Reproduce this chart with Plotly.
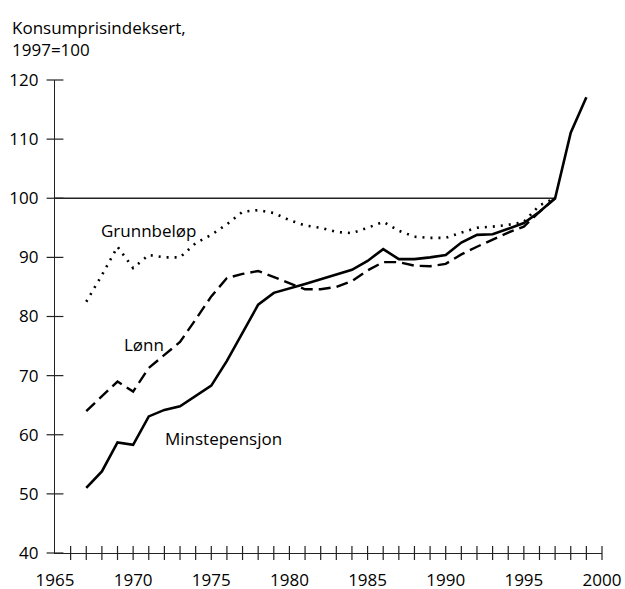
import plotly.graph_objects as go

years = list(range(1967, 2000))
minstepensjon = [51.0, 53.8, 58.7, 58.3, 63.1, 64.2, 64.8, 66.5, 68.3, 72.5, 77.2, 82.0,
                 84.0, 84.7, 85.5, 86.3, 87.1, 87.9, 89.4, 91.4, 89.7, 89.7, 90.0, 90.4,
                 92.5, 93.8, 93.9, 94.8, 95.8, 97.7, 100.0, 111.1, 117.1]
years_short = list(range(1967, 1998))
lonn = [64.0, 66.5, 69.0, 67.3, 71.3, 73.5, 75.7, 79.5, 83.4, 86.5, 87.2, 87.7,
        86.7, 85.7, 84.6, 84.6, 85.0, 86.0, 87.8, 89.2, 89.2, 88.6, 88.5, 88.9,
        90.5, 91.8, 93.0, 94.2, 95.2, 97.7, 100.0]
grunnbelop = [82.5, 87.0, 91.8, 88.2, 90.4, 90.0, 90.0, 92.4, 93.8, 95.6, 97.7, 98.0,
              97.5, 96.3, 95.4, 95.0, 94.3, 94.1, 95.0, 96.0, 94.5, 93.5, 93.3, 93.3,
              94.2, 95.0, 95.2, 95.5, 96.0, 98.8, 100.0]
ref_x = [1965, 1997]
ref_y = [100, 100]
x_ticks = list(range(1965, 2001, 5))
y_ticks = list(range(40, 121, 10))
minor_years = list(range(1966, 2001))

FONT = "Open Sans"
fig = go.Figure()

fig.add_trace(go.Scatter(x=ref_x, y=ref_y, mode="lines",
                         line=dict(color="#222", width=1.5), hoverinfo="skip"))
fig.add_trace(go.Scatter(x=years_short, y=grunnbelop, mode="lines",
                         line=dict(color="black", width=2.6, dash="2px,6px")))
fig.add_trace(go.Scatter(x=years_short, y=lonn, mode="lines",
                         line=dict(color="black", width=2.4, dash="12px,6px")))
fig.add_trace(go.Scatter(x=years, y=minstepensjon, mode="lines",
                         line=dict(color="black", width=2.6)))

# crossing tick marks
fig.add_trace(go.Scatter(x=minor_years, y=[40] * len(minor_years), mode="markers",
                         marker=dict(symbol="line-ns", size=10, line=dict(color="#222", width=1.2)),
                         cliponaxis=False, hoverinfo="skip"))
fig.add_trace(go.Scatter(x=[1965] * len(y_ticks), y=y_ticks, mode="markers",
                         marker=dict(symbol="line-ew", size=12, line=dict(color="#222", width=1.2)),
                         cliponaxis=False, hoverinfo="skip"))

fig.update_layout(
    width=625, height=589,
    margin=dict(l=54.5, r=23, t=80, b=35.7),
    paper_bgcolor="white", plot_bgcolor="white",
    showlegend=False,
    font=dict(family=FONT, size=17, color="black"),
    xaxis=dict(range=[1965, 2000], tickvals=x_ticks, showgrid=False, zeroline=False,
               showline=True, linecolor="#222", linewidth=1.2, ticks="",
               ticklabelstandoff=11, tickfont=dict(size=17), automargin=False),
    yaxis=dict(range=[40, 120], tickvals=y_ticks, showgrid=False, zeroline=False,
               showline=True, linecolor="#222", linewidth=1.2, ticks="",
               ticklabelstandoff=12, tickfont=dict(size=17), automargin=False),
    annotations=[
        dict(text="Konsumprisindeksert,<br>1997=100", xref="paper", yref="paper",
             x=-0.082, y=1.14, xanchor="left", yanchor="top", align="left",
             showarrow=False, font=dict(size=17)),
        dict(text="Grunnbeløp", x=1970.98, y=94.5, showarrow=False, font=dict(size=17)),
        dict(text="Lønn", x=1970.7, y=75.2, showarrow=False, font=dict(size=17)),
        dict(text="Minstepensjon", x=1975.8, y=59.4, showarrow=False, font=dict(size=17)),
    ],
)

fig.write_html("out.html", config={"displayModeBar": False},
               post_script="document.body.style.margin='0';document.body.style.overflow='hidden';")
